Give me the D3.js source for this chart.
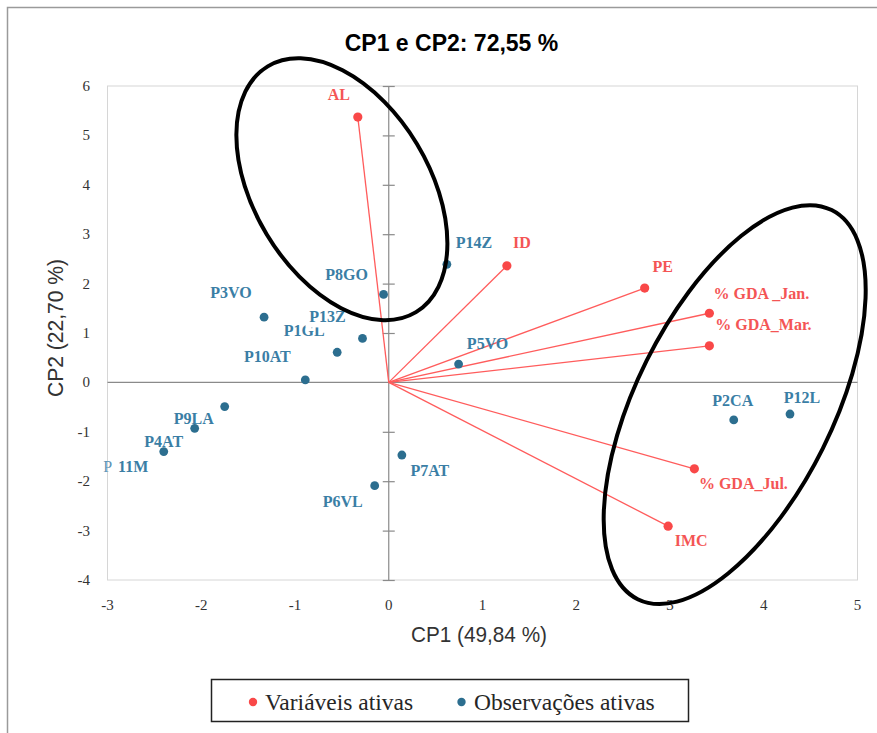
<!DOCTYPE html>
<html>
<head>
<meta charset="utf-8">
<script src="https://cdn.jsdelivr.net/npm/d3@7/dist/d3.min.js"></script>
<style>
  html, body { margin: 0; padding: 0; background: #ffffff; }
  svg { display: block; }
</style>
</head>
<body>
<svg id="chart" width="877" height="733"></svg>
<script>
// ---------------- DATA ----------------
const titleText = "CP1 e CP2: 72,55 %";
const xAxisTitle = "CP1 (49,84 %)";
const yAxisTitle = "CP2 (22,70 %)";
const xTicks = [-3, -2, -1, 0, 1, 2, 3, 4, 5];
const yTicks = [-4, -3, -2, -1, 0, 1, 2, 3, 4, 5, 6];

const variableNames = ["AL", "ID", "PE", "% GDA _Jan.", "% GDA_Mar.", "% GDA_Jul.", "IMC"];
const variableCP1   = [-0.33, 1.26, 2.73, 3.42, 3.42, 3.26, 2.98];
const variableCP2   = [5.37, 2.36, 1.91, 1.40, 0.74, -1.75, -2.91];

const observationNames = ["P1GL", "P2CA", "P3VO", "P4AT", "P5VO", "P6VL", "P7AT",
                          "P8GO", "P9LA", "P10AT", "P11M", "P12L", "P13Z", "P14Z"];
const observationCP1 = [-0.55, 3.68, -1.33, -2.07, 0.745, -0.15, 0.14,
                        -0.055, -1.75, -0.89, -2.40, 4.28, -0.28, 0.62];
const observationCP2 = [0.61, -0.76, 1.32, -0.93, 0.37, -2.09, -1.47,
                        1.78, -0.49, 0.05, -1.40, -0.64, 0.89, 2.39];

const legendLabels = ["Variáveis ativas", "Observações ativas"];

// ---------------- LAYOUT / STYLE ----------------
// label offsets (pixels, relative to the point, label centre)
const labelOffsets = {
  "AL": [-19, -22], "ID": [15, -23], "PE": [18, -21],
  "% GDA _Jan.": [52, -20], "% GDA_Mar.": [54, -21], "% GDA_Jul.": [49, 15], "IMC": [23, 15],
  "P1GL": [-33, -21.5], "P2CA": [-1, -19], "P3VO": [-33, -24], "P4AT": [-31, 13],
  "P5VO": [29, -20], "P6VL": [-32, 16], "P7AT": [28, 16], "P8GO": [-37, -20],
  "P9LA": [-31, 12], "P10AT": [-38, -23], "P11M": [-38, 15], "P12L": [12, -16],
  "P13Z": [-35, -22], "P14Z": [27, -22]
};
// annotation ellipses: centre in data units, radii in px, rotation deg
const ellipses = [
  { cx: -0.50, cy: 3.91, rx: 143.5, ry: 87.7, rot: 58.9 },
  { cx: 3.69, cy: -0.45, rx: 217.4, ry: 98.4, rot: -63.5 }
];

const RED = "#f94848", RED_LINE = "#ff5c5c", RED_TXT = "#f45555";
const BLUE = "#2c6e8f", BLUE_TXT = "#3a7ea5";
const AXIS = "#8a8a8a";

const svg = d3.select("#chart");
const plot = { left: 107.5, right: 857.5, top: 86, bottom: 580 };

const x = d3.scaleLinear().domain([-3, 5]).range([plot.left, plot.right]);
const y = d3.scaleLinear().domain([-4, 6]).range([plot.bottom, plot.top]);

// outer frame
svg.append("path")
  .attr("d", `M7.5,733 L7.5,7.5 L877,7.5`)
  .attr("fill", "none").attr("stroke", "#9a9a9a").attr("stroke-width", 1.5);

// plot border
svg.append("rect")
  .attr("x", plot.left).attr("y", plot.top)
  .attr("width", plot.right - plot.left).attr("height", plot.bottom - plot.top)
  .attr("fill", "none").attr("stroke", "#d6d6d6").attr("stroke-width", 1);

// title
svg.append("text")
  .attr("x", 451.5).attr("y", 51)
  .attr("text-anchor", "middle")
  .attr("font-family", "'Liberation Sans', Arial, sans-serif")
  .attr("font-weight", "bold").attr("font-size", 23)
  .attr("fill", "#000").text(titleText);

// axis lines through the origin
svg.append("line")
  .attr("x1", plot.left).attr("x2", plot.right)
  .attr("y1", y(0)).attr("y2", y(0))
  .attr("stroke", AXIS).attr("stroke-width", 1.2);
svg.append("line")
  .attr("x1", x(0)).attr("x2", x(0))
  .attr("y1", plot.top).attr("y2", plot.bottom)
  .attr("stroke", AXIS).attr("stroke-width", 1.2);

// cross ticks on vertical axis
const yAxisGen = d3.axisLeft(y).tickValues(yTicks.filter(d => d !== 0)).tickSize(12).tickFormat("");
const yTickG = svg.append("g").attr("transform", `translate(${x(0) + 6},0)`).call(yAxisGen);
yTickG.select(".domain").remove();
yTickG.selectAll(".tick line").attr("stroke", AXIS).attr("stroke-width", 1.2);

// tick labels
const tickFont = "'Liberation Serif', 'Times New Roman', serif";
svg.append("g").selectAll("text").data(yTicks).join("text")
  .attr("x", 90).attr("y", d => y(d) + 5)
  .attr("text-anchor", "end")
  .attr("font-family", tickFont).attr("font-size", 15).attr("fill", "#333")
  .text(d => d);
svg.append("g").selectAll("text").data(xTicks).join("text")
  .attr("x", d => x(d)).attr("y", 610)
  .attr("text-anchor", "middle")
  .attr("font-family", tickFont).attr("font-size", 15).attr("fill", "#333")
  .text(d => d);

// axis titles (condensed look)
const titleFont = "'Liberation Sans', Arial, sans-serif";
svg.append("text")
  .attr("x", 479).attr("y", 642)
  .attr("text-anchor", "middle")
  .attr("font-family", titleFont).attr("font-size", 22).attr("fill", "#333")
  .attr("textLength", 136).attr("lengthAdjust", "spacingAndGlyphs")
  .text(xAxisTitle);
svg.append("text")
  .attr("transform", "translate(63,328) rotate(-90)")
  .attr("text-anchor", "middle")
  .attr("font-family", titleFont).attr("font-size", 22).attr("fill", "#333")
  .attr("textLength", 138).attr("lengthAdjust", "spacingAndGlyphs")
  .text(yAxisTitle);

// variable vectors
const variables = variableNames.map((n, i) => ({ name: n, cp1: variableCP1[i], cp2: variableCP2[i] }));
const observations = observationNames.map((n, i) => ({ name: n, cp1: observationCP1[i], cp2: observationCP2[i] }));

svg.append("g").selectAll("line").data(variables).join("line")
  .attr("x1", x(0)).attr("y1", y(0))
  .attr("x2", d => x(d.cp1)).attr("y2", d => y(d.cp2))
  .attr("stroke", RED_LINE).attr("stroke-width", 1.3);

const labelFont = "'Liberation Serif', 'Times New Roman', serif";

// observation labels (drawn before points)
const obsLabelG = svg.append("g");
observations.forEach(d => {
  const off = labelOffsets[d.name];
  const cx = x(d.cp1) + off[0], cy = y(d.cp2) + off[1];
  if (d.name === "P13Z") {
    obsLabelG.append("rect")
      .attr("x", cx - 22).attr("y", cy - 10).attr("width", 44).attr("height", 21)
      .attr("fill", "#fff");
  }
  const t = obsLabelG.append("text")
    .attr("x", cx).attr("y", cy + 5.3)
    .attr("text-anchor", "middle")
    .attr("font-family", labelFont).attr("font-weight", "bold").attr("font-size", 16)
    .attr("fill", BLUE_TXT);
  if (d.name === "P11M") {
    t.append("tspan").attr("fill", "#5b93b5").attr("font-weight", "normal").text(d.name.slice(0, 1));
    t.append("tspan").attr("dx", 6).text(d.name.slice(1));
  } else {
    t.text(d.name);
  }
});

// variable labels
svg.append("g").selectAll("text").data(variables).join("text")
  .attr("x", d => x(d.cp1) + labelOffsets[d.name][0])
  .attr("y", d => y(d.cp2) + labelOffsets[d.name][1] + 5.3)
  .attr("text-anchor", "middle")
  .attr("font-family", labelFont).attr("font-weight", "bold").attr("font-size", 16)
  .attr("fill", RED_TXT)
  .text(d => d.name);

// points
svg.append("g").selectAll("circle").data(observations).join("circle")
  .attr("cx", d => x(d.cp1)).attr("cy", d => y(d.cp2)).attr("r", 4.4)
  .attr("fill", BLUE);
svg.append("g").selectAll("circle").data(variables).join("circle")
  .attr("cx", d => x(d.cp1)).attr("cy", d => y(d.cp2)).attr("r", 4.6)
  .attr("fill", RED);

// annotation ellipses
svg.append("g").selectAll("ellipse").data(ellipses).join("ellipse")
  .attr("transform", d => `translate(${x(d.cx)},${y(d.cy)}) rotate(${d.rot})`)
  .attr("rx", d => d.rx).attr("ry", d => d.ry)
  .attr("fill", "none").attr("stroke", "#000").attr("stroke-width", 4);

// legend
const lg = svg.append("g");
lg.append("rect")
  .attr("x", 211.5).attr("y", 679.5).attr("width", 477).attr("height", 42)
  .attr("fill", "#fff").attr("stroke", "#222").attr("stroke-width", 1.5);
const legendItems = [
  { label: legendLabels[0], color: RED, dotX: 253, textX: 265 },
  { label: legendLabels[1], color: BLUE, dotX: 461.5, textX: 474 }
];
legendItems.forEach(it => {
  lg.append("circle").attr("cx", it.dotX).attr("cy", 702).attr("r", 4.2).attr("fill", it.color);
  lg.append("text").attr("x", it.textX).attr("y", 710)
    .attr("font-family", labelFont).attr("font-size", 23.5).attr("fill", "#262626")
    .text(it.label);
});
</script>
</body>
</html>
